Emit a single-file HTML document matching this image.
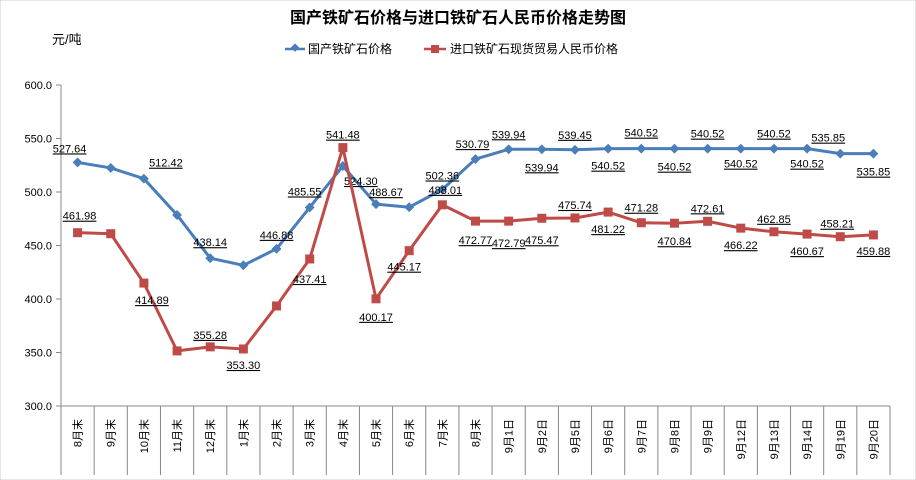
<!DOCTYPE html>
<html><head><meta charset="utf-8"><style>
body{margin:0;background:#fff;}
svg{display:block;font-family:"Liberation Sans","Noto Sans CJK SC",sans-serif;}
</style></head><body>
<svg id="c" width="916" height="480">
<rect x="0" y="0" width="916" height="480" fill="#fff" stroke="#ccc"/>
<text x="458" y="23" text-anchor="middle" font-size="16" font-weight="bold">国产铁矿石价格与进口铁矿石人民币价格走势图</text>
<text x="52" y="44" font-size="13">元/吨</text>
<g>
<line x1="285" y1="49" x2="305" y2="49" stroke="#4a7ebb" stroke-width="2.5"/>
<rect x="291" y="45" width="6" height="6" fill="#4a7ebb" transform="rotate(45 295 49)"/>
<text x="308" y="53" font-size="12">国产铁矿石价格</text>
<line x1="424" y1="49" x2="446" y2="49" stroke="#be4b48" stroke-width="2.5"/>
<rect x="431" y="45" width="8" height="8" fill="#be4b48"/>
<text x="450" y="53" font-size="12">进口铁矿石现货贸易人民币价格</text>
</g>
<g id="plot"></g>
</svg>
<script>
const categories=["8月末","9月末","10月末","11月末","12月末","1月末","2月末","3月末","4月末","5月末","6月末","7月末","8月末","9月1日","9月2日","9月5日","9月6日","9月7日","9月8日","9月9日","9月12日","9月13日","9月14日","9月19日","9月20日"];
const domestic=[527.64,522.5,512.42,478.5,438.14,431.5,446.88,485.55,524.30,488.67,485.8,502.36,530.79,539.94,539.94,539.45,540.52,540.52,540.52,540.52,540.52,540.52,540.52,535.85,535.85];
const imported=[461.98,461.0,414.89,351.5,355.28,353.30,393.5,437.41,541.48,400.17,445.17,488.01,472.77,472.79,475.47,475.74,481.22,471.28,470.84,472.61,466.22,462.85,460.67,458.21,459.88];
const domLabel=[1,0,1,0,1,0,1,1,1,1,0,1,1,1,1,1,1,1,1,1,1,1,1,1,1];
const impLabel=[1,0,1,0,1,1,0,1,1,1,1,1,1,1,1,1,1,1,1,1,1,1,1,1,1];
const yTicks=[300,350,400,450,500,550,600];
// label offsets (layout only): [dx,dy]
const domOff=[[-8,-10],[0,0],[22,-12],[0,0],[0,-12],[0,0],[0,-10],[-5,-12],[18,19],[10,-8],[0,0],[0,-10],[-3,-11],[0,-11],[0,22],[0,-11],[0,21],[0,-12],[0,22],[0,-11],[0,19],[0,-11],[0,19],[-12,-12],[0,22]];
const impOff=[[2,-13],[0,0],[8,21],[0,0],[0,-8],[0,20],[0,0],[0,24],[0,-9],[0,22],[-5,20],[3,-11],[0,23],[0,26],[0,26],[0,-9],[0,21],[0,-11],[0,22],[0,-9],[0,21],[0,-9],[0,21],[-3,-9],[0,20]];
const X0=61,X1=890,Y0=406,Y1=85;
const bw=(X1-X0)/categories.length;
const xs=i=>X0+bw*(i+0.5);
const ys=v=>Y0-(v-300)/300*(Y0-Y1);
const g=document.getElementById('plot');
const NS="http://www.w3.org/2000/svg";
function mk(t,a,p){const e=document.createElementNS(NS,t);for(const k in a)e.setAttribute(k,a[k]);(p||g).appendChild(e);return e;}
yTicks.forEach(v=>{
 const l=mk('line',{x1:X0-5,x2:X0,y1:ys(v),y2:ys(v),stroke:'#888','stroke-width':1});
 
 
 const t=mk('text',{x:X0-9,y:ys(v)+4,'text-anchor':'end','font-size':11});
 t.textContent=v.toFixed(1);
 
 
});
mk('line',{x1:X0,x2:X0,y1:Y1,y2:Y0,stroke:'#888'});
mk('line',{x1:X0,x2:X1,y1:Y0,y2:Y0,stroke:'#888'});
for(let i=0;i<=categories.length;i++){mk('line',{x1:X0+bw*i,x2:X0+bw*i,y1:Y0,y2:475,stroke:'#888'});}
categories.forEach((c,i)=>{
 const t=mk('text',{x:0,y:0,'text-anchor':'end','font-size':11,transform:`translate(${xs(i)+4},419) rotate(-90)`});
 t.textContent=c;
 
 
});
function series(vals,color,name,shape,flags,off){
 const p=mk('polyline',{points:vals.map((v,i)=>xs(i)+','+ys(v)).join(' '),fill:'none',stroke:color,'stroke-width':3});
 
 
 vals.forEach((v,i)=>{
  const x=xs(i),y=ys(v);let m;
  if(shape==='d')m=mk('rect',{x:x-3.5,y:y-3.5,width:7,height:7,fill:color,transform:`rotate(45 ${x} ${y})`});
  else m=mk('rect',{x:x-4.5,y:y-4.5,width:9,height:9,fill:color});
  
  
  if(flags[i]){
   const t=mk('text',{x:x+off[i][0],y:y+off[i][1],'text-anchor':'middle','font-size':11,'text-decoration':'underline'});
   t.textContent=v.toFixed(2);
   
   
  }
 });
}
series(domestic,'#4a7ebb','domestic','d',domLabel,domOff);
series(imported,'#be4b48','import','s',impLabel,impOff);
</script>
</body></html>
